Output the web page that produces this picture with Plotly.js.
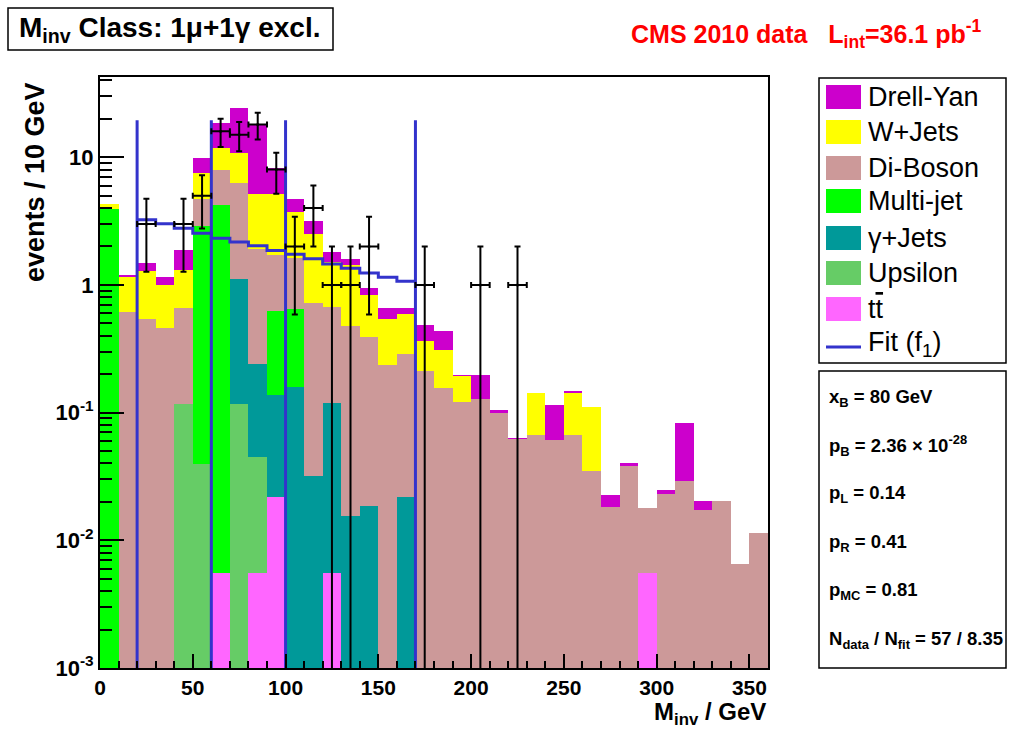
<!DOCTYPE html>
<html>
<head>
<meta charset="utf-8">
<script src="https://cdn.plot.ly/plotly-3.0.1.min.js"></script>
<style>
  html, body { margin: 0; padding: 0; background: #ffffff; }
  #chart { width: 1010px; height: 734px; }
</style>
</head>
<body>
<div id="chart"></div>
<script>
// Invariant-mass spectrum, 10 GeV bins from 0 to 360 GeV (bin centres)
const binCenters = [5, 15, 25, 35, 45, 55, 65, 75, 85, 95, 105, 115, 125, 135, 145, 155, 165, 175,
                    185, 195, 205, 215, 225, 235, 245, 255, 265, 275, 285, 295, 305, 315, 325, 335, 345, 355];

// Simulated backgrounds, events per bin
const ttbar     = [0, 0, 0, 0, 0, 0, 0.0055, 0, 0.0055, 0.022, 0, 0, 0.0055, 0, 0, 0, 0, 0,
                   0, 0, 0, 0, 0, 0, 0, 0, 0, 0, 0, 0.0055, 0, 0, 0, 0, 0, 0];
const upsilon   = [0, 0, 0, 0, 0.116, 0.0396, 0, 0.1164, 0.0393, 0, 0, 0, 0, 0, 0, 0, 0, 0,
                   0, 0, 0, 0, 0, 0, 0, 0, 0, 0, 0, 0, 0, 0, 0, 0, 0, 0];
const gammaJets = [0, 0, 0, 0, 0, 0, 0, 0.989, 0.1936, 0.1154, 0.158, 0.0316, 0.1135, 0.0156, 0.0185, 0, 0.0217, 0,
                   0, 0, 0, 0, 0, 0, 0, 0, 0, 0, 0, 0, 0, 0, 0, 0, 0, 0];
const multiJet  = [3.92, 0, 0, 0, 0, 2.84, 4.19, 0, 0, 0.4906, 0.487, 0, 0, 0, 0, 0, 0, 0,
                   0, 0, 0, 0, 0, 0, 0, 0, 0, 0, 0, 0, 0, 0, 0, 0, 0, 0];
const diBoson   = [0, 0.608, 0.537, 0.459, 0.539, 1.80, 3.70, 5.195, 1.66, 1.083, 0.975, 0.688, 0.551, 0.464, 0.3715, 0.236, 0.268, 0.212,
                   0.156, 0.12, 0.128, 0.0995, 0.0625, 0.067, 0.0609, 0.0667, 0.0348, 0.0183, 0.0382, 0.0125, 0.0232, 0.0291, 0.0173, 0.0203, 0.00652, 0.0115];
const wJets     = [0.39, 0.542, 0.743, 0.541, 0.665, 2.79, 4.00, 4.55, 3.27, 3.46, 2.10, 1.80, 0.84, 0.95, 0.45, 0.305, 0.30, 0.152,
                   0.154, 0.074, 0, 0, 0, 0.075, 0, 0.0753, 0.0752, 0, 0, 0, 0, 0, 0, 0, 0, 0];
const drellYan  = [0.02, 0.04, 0.196, 0.16, 0.57, 2.33, 6.80, 13.25, 13.10, 3.03, 0.96, 0.63, 0.30, 0.18, 0.10, 0.115, 0.066, 0.118,
                   0.122, 0.002, 0.068, 0.005, 0.001, 0, 0.053, 0.0056, 0, 0.0043, 0.002, 0, 0.0015, 0.0538, 0.003, 0, 0, 0];

// Observed events
const dataMass   = [25, 45, 55, 65, 75, 85, 95, 105, 115, 125, 135, 145, 175, 205, 225];
const dataEvents = [3, 3, 5, 16, 15, 18, 8, 2, 4, 1, 1, 2, 1, 1, 1];

// Fit (f1) per 10 GeV bin between 20 and 170 GeV
const fitEdges  = [20, 30, 40, 50, 60, 70, 80, 90, 100, 110, 120, 130, 140, 150, 160, 170];
const fitValues = [3.23, 3.01, 2.78, 2.54, 2.32, 2.17, 2.03, 1.86, 1.74, 1.60, 1.46, 1.35, 1.24, 1.15, 1.07];

// Region boundaries (sideband / signal window)
const regionEdges = [20, 60, 100, 170];
const regionTop = 19.5;

// Legend / stats text
const legendLabels = ['Drell-Yan', 'W+Jets', 'Di-Boson', 'Multi-jet', '\u03b3+Jets', 'Upsilon', 't<span style="text-decoration:overline">t</span>'];
const legendColors = ['#cc00cc', '#ffff00', '#cc9999', '#00ff00', '#009999', '#66cc66', '#ff66ff'];
const statsLines = [
  'x<sub>B</sub> = 80 GeV',
  'p<sub>B</sub> = 2.36 \u00d7 10<sup>-28</sup>',
  'p<sub>L</sub> = 0.14',
  'p<sub>R</sub> = 0.41',
  'p<sub>MC</sub> = 0.81',
  'N<sub>data</sub> / N<sub>fit</sub> = 57 / 8.35'
];

const FONT = 'Liberation Sans, Arial, Helvetica, sans-serif';

// stack, bottom first
const stackOrder = [
  { name: 'ttbar', y: ttbar, color: '#ff66ff' },
  { name: 'Upsilon', y: upsilon, color: '#66cc66' },
  { name: '\u03b3+Jets', y: gammaJets, color: '#009999' },
  { name: 'Multi-jet', y: multiJet, color: '#00ff00' },
  { name: 'Di-Boson', y: diBoson, color: '#cc9999' },
  { name: 'W+Jets', y: wJets, color: '#ffff00' },
  { name: 'Drell-Yan', y: drellYan, color: '#cc00cc' }
];

const traces = stackOrder.map(s => ({
  type: 'bar',
  x: binCenters,
  y: s.y,
  width: 10,
  name: s.name,
  marker: { color: s.color, line: { width: 0 } },
  showlegend: false,
  hoverinfo: 'x+y+name'
}));

// fit step line
traces.push({
  type: 'scatter', mode: 'lines',
  x: fitEdges,
  y: fitValues.concat([fitValues[fitValues.length - 1]]),
  line: { shape: 'hv', color: '#3333cc', width: 3 },
  showlegend: false, hoverinfo: 'skip'
});

// region boundaries
regionEdges.forEach(e => {
  traces.push({
    type: 'scatter', mode: 'lines',
    x: [e, e], y: [0.0002, regionTop],
    line: { color: '#3333cc', width: 3 },
    showlegend: false, hoverinfo: 'skip'
  });
});

// data with Poisson errors
traces.push({
  type: 'scatter', mode: 'markers',
  x: dataMass, y: dataEvents,
  marker: { color: '#000000', size: 3 },
  error_y: { type: 'sqrt', color: '#000000', thickness: 2, width: 3 },
  error_x: { type: 'constant', value: 5, color: '#000000', thickness: 2, width: 3 },
  showlegend: false
});

// plot-area pixel frame
const PL = 100, PR = 768, PT = 77, PB = 668;
const px = p => (p - PL) / (PR - PL);
const py = p => (PB - p) / (PB - PT);

const shapes = [];
const annotations = [];

// title box
shapes.push({ type: 'rect', xref: 'paper', yref: 'paper', x0: px(8), x1: px(333), y0: py(50), y1: py(8),
  line: { color: '#000', width: 1.5 }, fillcolor: '#ffffff', layer: 'above' });
annotations.push({ xref: 'paper', yref: 'paper', x: px(170), y: py(30), xanchor: 'center', yanchor: 'middle',
  text: '<b>M<sub>inv</sub> Class: 1\u03bc+1\u03b3 excl.</b>', showarrow: false,
  font: { family: FONT, size: 28, color: '#000' } });

// luminosity label
annotations.push({ xref: 'paper', yref: 'paper', x: px(984), y: py(34), xanchor: 'right', yanchor: 'middle',
  text: '<b>CMS 2010 data   L<sub>int</sub>=36.1 pb<sup>-1</sup></b>', showarrow: false,
  font: { family: FONT, size: 25, color: '#ff0000' } });

// legend box
shapes.push({ type: 'rect', xref: 'paper', yref: 'paper', x0: px(819), x1: px(1006), y0: py(363), y1: py(78),
  line: { color: '#000', width: 1.5 }, fillcolor: '#ffffff', layer: 'above' });
const legY = [97, 132, 168, 201, 238, 273, 309, 344];
legendLabels.forEach((lab, i) => {
  const yc = legY[i];
  shapes.push({ type: 'rect', xref: 'paper', yref: 'paper', x0: px(826), x1: px(861), y0: py(yc + 12), y1: py(yc - 12),
    line: { width: 0 }, fillcolor: legendColors[i], layer: 'above' });
  annotations.push({ xref: 'paper', yref: 'paper', x: px(866), y: py(yc), xanchor: 'left', yanchor: 'middle',
    text: lab, showarrow: false, font: { family: FONT, size: 27, color: '#000' } });
});
shapes.push({ type: 'line', xref: 'paper', yref: 'paper', x0: px(826), x1: px(861), y0: py(347), y1: py(347),
  line: { color: '#3333cc', width: 3 }, layer: 'above' });
annotations.push({ xref: 'paper', yref: 'paper', x: px(866), y: py(344), xanchor: 'left', yanchor: 'middle',
  text: 'Fit (f<sub>1</sub>)', showarrow: false, font: { family: FONT, size: 27, color: '#000' } });

// statistics box
shapes.push({ type: 'rect', xref: 'paper', yref: 'paper', x0: px(819), x1: px(1006), y0: py(668), y1: py(371),
  line: { color: '#000', width: 1.5 }, fillcolor: '#ffffff', layer: 'above' });
const statY = [398, 445, 494, 543, 591, 640];
statsLines.forEach((t, i) => {
  annotations.push({ xref: 'paper', yref: 'paper', x: px(827), y: py(statY[i]), xanchor: 'left', yanchor: 'middle',
    text: '<b>' + t + '</b>', showarrow: false, font: { family: FONT, size: 18.5, color: '#000' } });
});

// axis titles
annotations.push({ xref: 'paper', yref: 'paper', x: px(35), y: py(182), xanchor: 'center', yanchor: 'middle',
  text: '<b>events / 10 GeV</b>', textangle: -90, showarrow: false, font: { family: FONT, size: 27, color: '#000' } });
annotations.push({ xref: 'paper', yref: 'paper', x: px(768), y: py(731), xanchor: 'right', yanchor: 'bottom',
  text: '<b>M<sub>inv</sub> / GeV</b>', showarrow: false, font: { family: FONT, size: 24, color: '#000' } });

// minor tick positions on the log axis
const minorY = [];
for (let d = -3; d <= 1; d++) for (let k = 2; k <= 9; k++) minorY.push(k * Math.pow(10, d));

const layout = {
  width: 1010, height: 734,
  margin: { l: PL, r: 1010 - PR, t: PT, b: 734 - PB, pad: 0 },
  paper_bgcolor: '#ffffff', plot_bgcolor: '#ffffff',
  barmode: 'stack', bargap: 0,
  showlegend: false,
  xaxis: {
    range: [0, 360], showgrid: false, zeroline: false,
    showline: true, linecolor: '#000', linewidth: 2, mirror: true,
    tickmode: 'linear', tick0: 0, dtick: 50,
    ticks: 'inside', ticklen: 14, tickwidth: 2, tickcolor: '#000',
    minor: { ticks: 'inside', dtick: 10, ticklen: 7, tickwidth: 2, tickcolor: '#000' },
    tickfont: { family: FONT, size: 21, color: '#000', weight: 'bold' }
  },
  yaxis: {
    type: 'log', range: [-3, 1.628], showgrid: false, zeroline: false,
    showline: true, linecolor: '#000', linewidth: 2, mirror: true,
    tickmode: 'array', tickvals: [0.001, 0.01, 0.1, 1, 10],
    ticktext: ['<b>10<sup>-3</sup></b>', '<b>10<sup>-2</sup></b>', '<b>10<sup>-1</sup></b>', '<b>1</b>', '<b>10</b>'],
    ticks: 'inside', ticklen: 24, tickwidth: 2, tickcolor: '#000',
    minor: { ticks: 'inside', tickmode: 'array', tickvals: minorY, ticklen: 12, tickwidth: 2, tickcolor: '#000' },
    tickfont: { family: FONT, size: 22, color: '#000' }
  },
  shapes: shapes,
  annotations: annotations
};

Plotly.newPlot('chart', traces, layout, { staticPlot: true, displayModeBar: false });
</script>
</body>
</html>
